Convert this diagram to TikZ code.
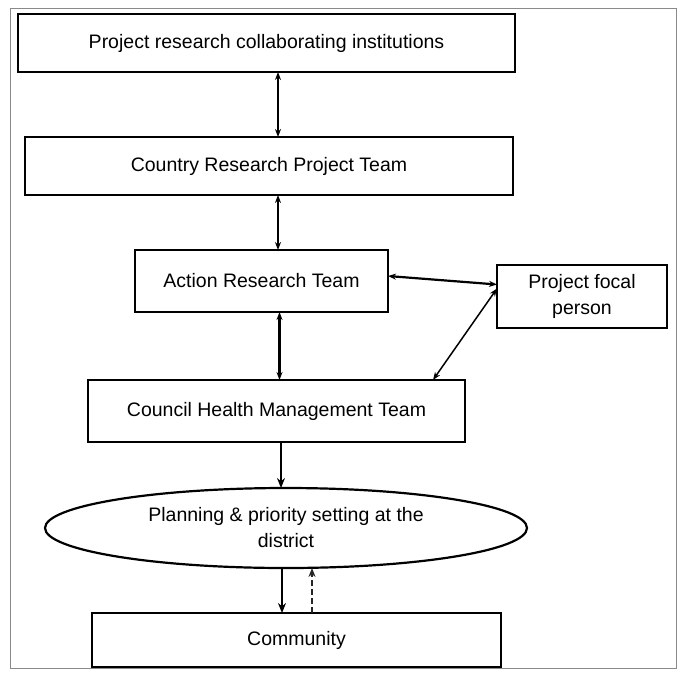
\documentclass[tikz,border=0pt]{standalone}
\usepackage{fontspec}
\setmainfont{Liberation Sans}
\usepackage{tikz}
\usetikzlibrary{shapes.geometric, arrows.meta, positioning, calc}
\definecolor{FrameGray}{HTML}{8A8A8A}

\begin{document}
\begin{tikzpicture}[
    x=1pt, y=-1pt,
    box/.style={draw, minimum height=58pt, text centered, inner sep=2pt, outer sep=0pt,
                font=\fontsize{19.5}{26}\selectfont, line width=2.2pt},
    oval/.style={draw, ellipse, minimum width=482pt, minimum height=80pt, inner sep=0pt, outer sep=0pt,
                 align=center, font=\fontsize{19.5}{26}\selectfont, line width=2.2pt},
    arrow/.style={-{Stealth[length=8pt, width=6pt]}, line width=1.5pt},
    twoarrow/.style={{Stealth[length=8pt, width=6pt]}-{Stealth[length=8pt, width=6pt]}, line width=1.5pt},
    bigarrow/.style={-{Stealth[length=10pt, width=8pt]}, line width=2.4pt},
    dasharrow/.style={-{Stealth[length=9pt, width=7pt]}, line width=1.8pt, dash pattern=on 6pt off 3pt, draw=black!85}
  ]
    % Frame
    \useasboundingbox (0,0) rectangle (685,683);
    \draw[FrameGray, line width=0.8pt] (10,8) rectangle (676,668);

    % Research side
    \node[box, minimum width=497pt] (inst) at (266.5,43) {Project research collaborating institutions};
    \node[box, minimum width=488pt, below=65pt of inst, xshift=2.5pt] (country) {Country Research Project Team};
    \node[box, minimum width=253pt, minimum height=62pt, below=55pt of country, xshift=-7.5pt] (action)
      {Action Research Team};
    \node[box, minimum width=170pt, minimum height=63pt, align=center, right=109pt of action, yshift=-15.5pt] (focal)
      {Project focal\\person};

    % District side
    \node[box, minimum width=377pt, minimum height=62pt, below=68pt of action, xshift=15pt] (chmt)
      {Council Health Management Team};
    \node[oval, below=46pt of chmt, xshift=9.5pt] (plan) {Planning \& priority setting at the\\district};
    \node[box, minimum width=409pt, minimum height=54pt, below=45pt of plan, xshift=10.5pt] (community) {Community};

    % Arrows
    \draw[twoarrow] ([xshift=11.5pt]inst.south) -- ([xshift=11.5pt]inst.south |- country.north);
    \draw[twoarrow] ([xshift=9pt]country.south) -- ([xshift=9pt]country.south |- action.north);
    \draw[twoarrow, line width=2.4pt] ([xshift=18pt]action.south) -- ([xshift=18pt]action.south |- chmt.north);
    \draw[twoarrow, line width=2.2pt] ([yshift=5pt]action.east) -- ([yshift=12pt]focal.west);
    \draw[twoarrow] ([xshift=-32pt]chmt.north east) -- ([yshift=8pt]focal.west);
    \draw[bigarrow] ([xshift=4.5pt]chmt.south) -- ([xshift=4.5pt]chmt.south |- plan.north);
    \draw[bigarrow] ([xshift=-4pt]plan.south) -- ([xshift=-4pt]plan.south |- community.north);
    \draw[dasharrow] ([xshift=15.5pt]community.north) -- ([xshift=15.5pt]community.north |- plan.south);

  \end{tikzpicture}
\end{document}
